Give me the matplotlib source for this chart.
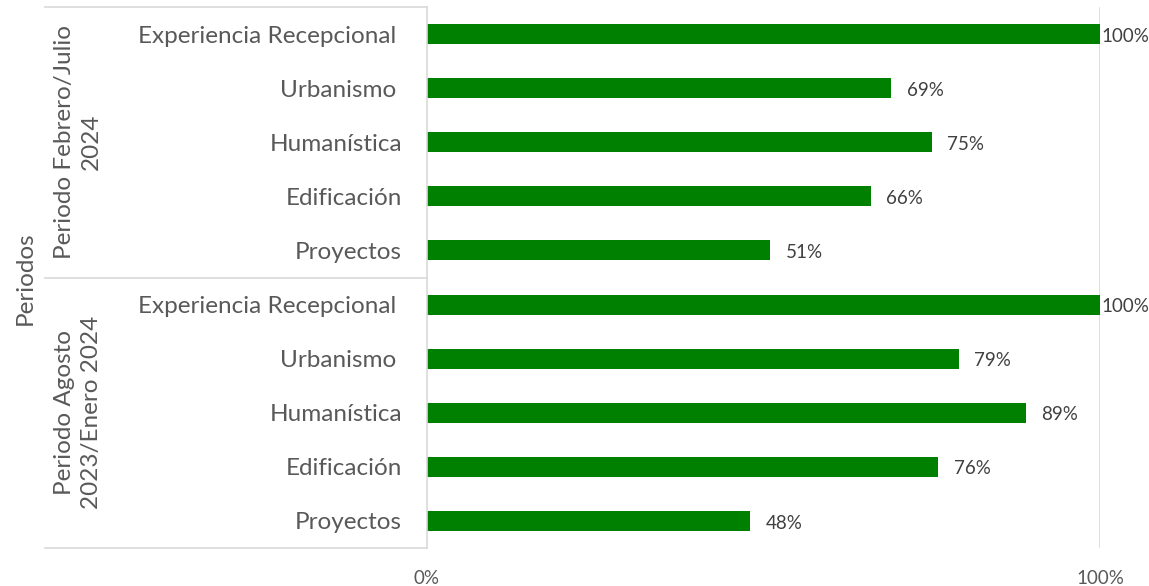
import matplotlib.pyplot as plt
from matplotlib.lines import Line2D

# data, top to bottom as drawn
periods = ['Periodo Febrero/Julio\n2024', 'Periodo Agosto\n2023/Enero 2024']
categories = ['Experiencia Recepcional ', 'Urbanismo ', 'Humanística', 'Edificación', 'Proyectos']
feb_jul_2024 = [100, 69, 75, 66, 51]
ago_2023_ene_2024 = [100, 79, 89, 76, 48]

plt.rcParams['font.family'] = ['Lato', 'DejaVu Sans']

GREEN = '#008000'
GRID = '#d9d9d9'
TXT = '#595959'

values = feb_jul_2024 + ago_2023_ene_2024
labels = categories + categories
ypos = list(range(len(values)))

fig = plt.figure(figsize=(11.49, 5.86), dpi=100)
ax = fig.add_axes([427 / 1149, 1 - 548 / 586, 673 / 1149, 541 / 586])

ax.barh(ypos, values, height=0.37, color=GREEN)
ax.set_xlim(0, 100)
ax.set_ylim(len(values) - 0.5, -0.5)

ax.set_yticks(ypos)
ax.set_yticklabels(labels, fontsize=17.5, color=TXT)
ax.set_xticks([0, 100])
ax.set_xticklabels(['0%', '100%'], fontsize=13.5, color=TXT)
ax.tick_params(axis='y', length=0, pad=18)
ax.tick_params(axis='x', length=0, pad=16)

for s in ['top', 'right', 'bottom']:
    ax.spines[s].set_visible(False)
ax.spines['left'].set_color(GRID)
ax.spines['left'].set_linewidth(1.2)
ax.axvline(100, color=GRID, lw=1.2, zorder=0)

# data labels
for y, v in zip(ypos, values):
    off = 1 if v >= 100 else 11
    ax.annotate(f'{v}%', (v, y), xytext=(off, -1.5), textcoords='offset points',
                va='center', ha='left', fontsize=13.5, color='#404040')

# nested category axis decoration
xl = (45 - 427) / 673
trans = ax.get_yaxis_transform()
for yy in [-0.5, 4.5, 9.5]:
    ax.add_line(Line2D([xl, 0], [yy, yy], transform=trans, color=GRID,
                       lw=1.2, clip_on=False))

for i, p in enumerate(periods):
    ax.text((78 - 427) / 673, 2 + 5 * i, p, transform=trans, rotation=90,
            ha='center', va='center', fontsize=17.5, color=TXT,
            multialignment='center', linespacing=1.35)

fig.text(25 / 1149, 1 - 278 / 586, 'Periodos', rotation=90, ha='center',
         va='center', fontsize=17.5, color=TXT)

fig.savefig('out.png', dpi=100)
